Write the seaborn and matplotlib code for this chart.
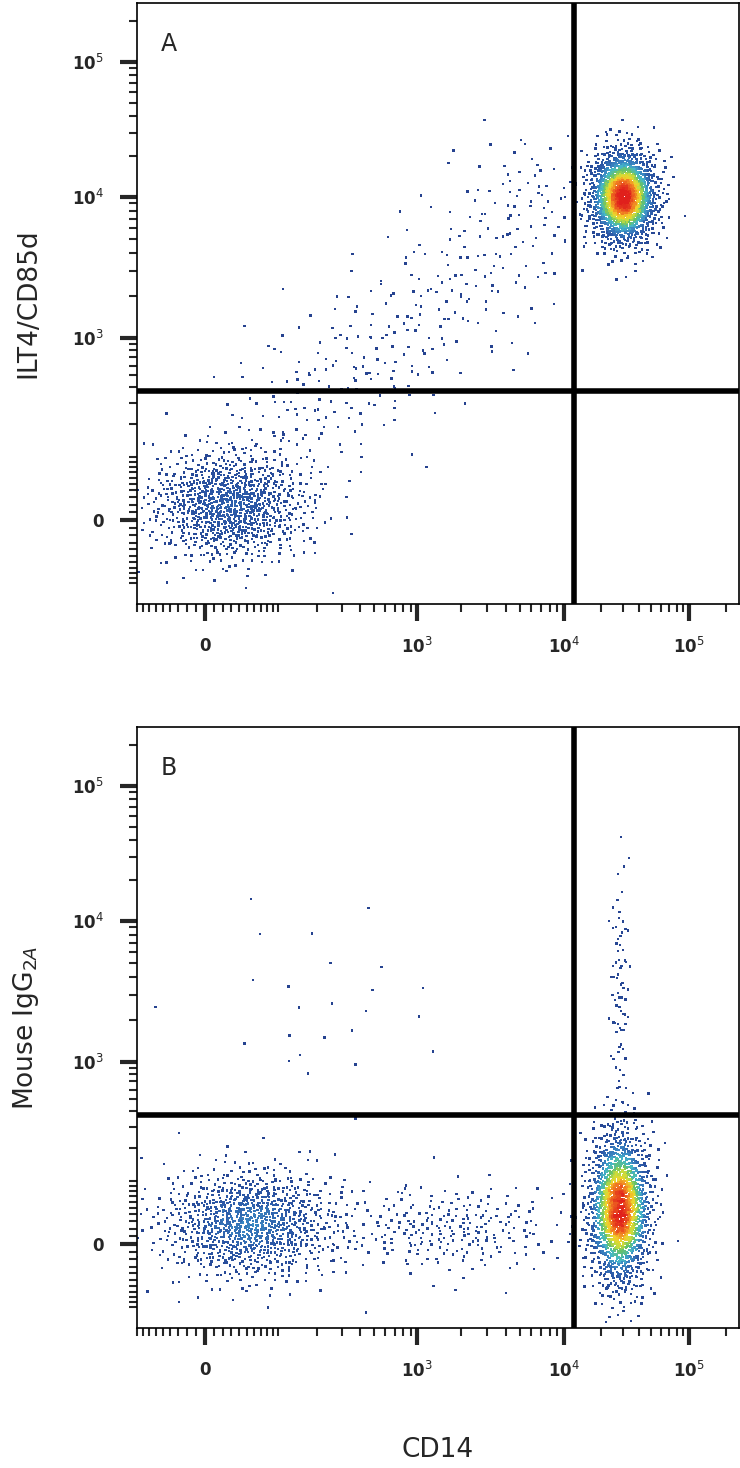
import numpy as np
import pandas as pd
import matplotlib
matplotlib.use("Agg")
import matplotlib.pyplot as plt
from matplotlib.colors import LinearSegmentedColormap
import seaborn as sns

# cytometer axis: asinh-like, anchored to where the decades sit in the picture
W = 70.0
anchor_vals = [0, 1e3, 1e4, 1e5]
x_anchor_disp = [0, 213, 360, 485]
y_anchor_disp = [0, 182, 323, 458]

# populations: centre in data units, spread in display units, number of events
pop_a_cx = [3.0e4, 28, 160, 590, 2100, 6200]
pop_a_cy = [1.0e4, 20, 260, 800, 2580, 9500]
pop_a_sx = [17, 40, 45, 45, 45, 40]
pop_a_sy = [24, 28, 40, 40, 40, 35]
pop_a_n = [1500, 1000, 90, 90, 90, 80]

pop_b_cx = [2.8e4, 54, 1650, 2.8e4, 225]
pop_b_cy = [48, 26, 20, 3000, 2200]
pop_b_sx = [16, 45, 60, 5, 60]
pop_b_sy = [40, 28, 22, 70, 50]
pop_b_n = [1500, 1000, 250, 80, 25]

gate_x = 1.2e4
gate_y = 370

x_ticks = [0, 1e3, 1e4, 1e5]
x_tick_labels = ["0", "10$^3$", "10$^4$", "10$^5$"]
y_ticks = [0, 1e3, 1e4, 1e5]
y_tick_labels = ["0", "10$^3$", "10$^4$", "10$^5$"]

density_colors = ["#26428f", "#2c5aa8", "#3a86c2", "#45b8c8", "#66c16a",
                  "#c8dc3c", "#f2d22a", "#f07a22", "#e0201c"]
density_stops = [0.0, 0.25, 0.38, 0.48, 0.58, 0.68, 0.76, 0.87, 1.0]


def make_scale(disp):
    a = list(np.arcsinh(np.array(anchor_vals) / W))
    d = list(disp)
    slope0 = d[1] / a[1]
    slope_hi = d[3] - d[2]
    a = [-4.0] + a + [a[-1] + 3 * np.log(10)]
    d = [-4.0 * slope0] + d + [d[-1] + 3 * slope_hi]

    def fwd(v):
        return np.interp(np.arcsinh(np.asarray(v, dtype=float) / W), a, d)

    def inv(p):
        return W * np.sinh(np.interp(np.asarray(p, dtype=float), d, a))
    return fwd, inv


fx, ix_ = make_scale(x_anchor_disp)
fy, iy_ = make_scale(y_anchor_disp)


def halton(n, base):
    out = np.zeros(n)
    for i in range(n):
        f, r, k = 1.0, 0.0, i + 1
        while k > 0:
            f /= base
            r += f * (k % base)
            k //= base
        out[i] = r
    return out


def smooth(h, k=4):
    # box blur by padding and summing shifted copies
    p = np.pad(h, k)
    out = np.zeros_like(h)
    for dx in range(-k, k + 1):
        for dy in range(-k, k + 1):
            out += p[k + dx:k + dx + h.shape[0], k + dy:k + dy + h.shape[1]]
    return out


def build(cx, cy, sx, sy, ns):
    xs, ys = [], []
    off = 1
    for a, b, c, d, n in zip(cx, cy, sx, sy, ns):
        u1 = halton(n + off, 2)[off:]
        u2 = halton(n + off, 3)[off:]
        off += n
        rad = np.sqrt(-2 * np.log(np.clip(u1, 1e-6, 1)))
        xs.append(fx(a) + c * rad * np.cos(2 * np.pi * u2))
        ys.append(fy(b) + d * rad * np.sin(2 * np.pi * u2))
    px = np.concatenate(xs)
    py = np.concatenate(ys)
    bx = np.arange(-100, 560, 2)
    by = np.arange(-120, 560, 2)
    h, _, _ = np.histogram2d(px, py, bins=[bx, by])
    h = smooth(h)
    i = np.clip(np.digitize(px, bx) - 1, 0, len(bx) - 2)
    j = np.clip(np.digitize(py, by) - 1, 0, len(by) - 2)
    dens = h[i, j] / h.max()
    df = pd.DataFrame({"x": ix_(px), "y": iy_(py), "d": dens})
    return df.sort_values("d")


cmap = LinearSegmentedColormap.from_list("flow", list(zip(density_stops, density_colors)))

minor = []
for dec in [10, 100, 1000, 10000, 100000]:
    minor += [m * dec for m in range(1, 10)]
minor += [-m * 10 for m in range(1, 10)] + [-100]

sns.set_style("ticks")
fig = plt.figure(figsize=(7.4, 14.68), dpi=100)
axA = fig.add_axes([0.185, 0.5886, 0.813, 0.4094])
axB = fig.add_axes([0.185, 0.0954, 0.813, 0.4094])

panels = [
    (axA, build(pop_a_cx, pop_a_cy, pop_a_sx, pop_a_sy, pop_a_n), "A", "ILT4/CD85d"),
    (axB, build(pop_b_cx, pop_b_cy, pop_b_sx, pop_b_sy, pop_b_n), "B", "Mouse IgG$_{2A}$"),
]

for ax, df, letter, ylab in panels:
    ax.set_xscale("function", functions=(fx, ix_))
    ax.set_yscale("function", functions=(fy, iy_))
    sns.scatterplot(data=df, x="x", y="y", hue="d", palette=cmap,
                    hue_norm=(0, 0.95), marker="s", s=3, linewidth=0, legend=False, ax=ax)
    ax.axvline(gate_x, color="black", lw=4)
    ax.axhline(gate_y, color="black", lw=4)
    ax.set_xticks(x_ticks)
    ax.set_xticklabels(x_tick_labels, fontsize=12, fontweight="bold")
    ax.set_yticks(y_ticks)
    ax.set_yticklabels(y_tick_labels, fontsize=12, fontweight="bold")
    ax.set_xticks(minor, minor=True)
    ax.set_yticks(minor, minor=True)
    # limits after the ticks, since set_xticks widens the view
    ax.set_xlim(ix_(-68), ix_(535))
    ax.set_ylim(iy_(-84), iy_(517))
    ax.tick_params(which="major", direction="out", length=12, width=3, pad=12)
    ax.tick_params(which="minor", direction="out", length=6, width=1.5)
    for s in ax.spines.values():
        s.set_linewidth(1.2)
        s.set_color("black")
    ax.text(0.04, 0.92, letter, transform=ax.transAxes, fontsize=17)
    ax.set_xlabel("")
    ax.set_ylabel(ylab, fontsize=19, labelpad=22)

axB.set_xlabel("CD14", fontsize=19, labelpad=40)
fig.savefig("out.png", dpi=100)
